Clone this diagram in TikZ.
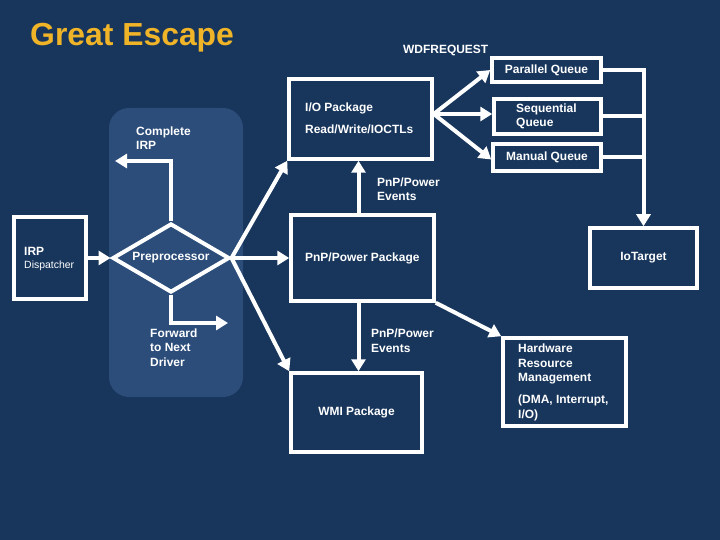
\documentclass[tikz,border=0pt]{standalone}
\usepackage{fontspec}
\setmainfont{Liberation Sans}
\usetikzlibrary{arrows.meta,shapes.geometric,calc}
\definecolor{bg}{RGB}{24,54,92}
\definecolor{panel}{RGB}{44,77,122}
\definecolor{titlec}{RGB}{240,180,40}
\begin{document}
\begin{tikzpicture}[x=1bp,y=-1bp,
  box/.style={draw=white,line width=3.5bp,inner sep=0pt},
  lbl/.style={text=white,font=\bfseries\fontsize{12}{14.5}\selectfont,inner sep=0pt,align=left},
  arr/.style={draw=white,line width=4bp,-{Triangle[length=12bp,width=14bp]}},
  ln/.style={draw=white,line width=4bp}]
\fill[bg] (0,0) rectangle (720,540);
\useasboundingbox (0,0) rectangle (720,540);
\fill[panel,rounded corners=20bp] (109,108) rectangle (243,397);
% title
\node[anchor=base west,inner sep=0pt,text=titlec,font=\bfseries\fontsize{32}{38}\selectfont] (title) at (30,46) {Great Escape};
\node[lbl,anchor=base west] (wdf) at (403,54) {WDFREQUEST};
% boxes
\node[box,minimum width=72bp,minimum height=82bp] (irp) at (50,258) {};
\node[box,diamond,aspect=1.7,minimum width=117bp,minimum height=69bp,lbl,line width=4bp] (pre) at (171,258) {Preprocessor};
\node[box,minimum width=143bp,minimum height=80bp] (io) at (360.5,119) {};
\node[box,minimum width=143bp,minimum height=86bp] (pnp) at (362.5,258) {};
\node[box,minimum width=131bp,minimum height=79bp] (wmi) at (356.5,412.5) {};
\node[box,minimum width=123bp,minimum height=88bp] (hw) at (564.5,382) {};
\node[box,minimum width=109bp,minimum height=24bp] (par) at (546.5,70) {};
\node[box,minimum width=107bp,minimum height=35bp] (seq) at (547.5,116.5) {};
\node[box,minimum width=108bp,minimum height=27bp] (man) at (547,157.5) {};
\node[box,minimum width=107bp,minimum height=60bp] (iot) at (643.5,258) {};
% free ends and helper points
\coordinate (cirp) at (115,161);
\coordinate (fwd) at (228,323);
\coordinate (ioout) at ([yshift=5bp]io.east);
% labels (multi-line: base = last line)
\node[lbl,anchor=base west] (irpt) at (24,256) {IRP};
\node[anchor=base west,inner sep=0pt,text=white,font=\fontsize{10.5}{12}\selectfont] (disp) at (24,269) {Dispatcher};
\node[lbl,anchor=base west] (cirpt) at (136,150) {Complete\\IRP};
\node[lbl,anchor=base west] (fwdt) at (150,366) {Forward\\to Next\\Driver};
\node[lbl,anchor=base west] (iot1) at (305,112) {I/O Package};
\node[lbl,anchor=base west] (iot2) at (305,134) {Read/Write/IOCTLs};
\node[lbl,anchor=base west] (ev1) at (377,201) {PnP/Power\\Events};
\node[lbl,anchor=base west] (pnpt) at (305,262) {PnP/Power Package};
\node[lbl,anchor=base west] (ev2) at (371,352) {PnP/Power\\Events};
\node[lbl] (wmit) at (wmi) {WMI Package};
\node[lbl,anchor=base west] (hwt) at (518,418) {Hardware\\Resource\\Management\\[7.5pt](DMA, Interrupt,\\I/O)};
\node[lbl] (part) at (par) {Parallel Queue};
\node[lbl,anchor=base west] (seqt) at (516,127) {Sequential\\Queue};
\node[lbl] (mant) at (man) {Manual Queue};
\node[lbl] (iott) at (iot) {IoTarget};
% connectors
\draw[arr] (irp.east) -- (pre.west);
\draw[arr] (pre.north) |- (cirp);
\draw[arr] (pre.south) |- (fwd);
\draw[arr] (pre.east) -- (io.south west);
\draw[arr] (pre.east) -- (pnp.west);
\draw[arr] (pre.east) -- (wmi.north west);
\draw[arr] ([xshift=-4bp]pnp.north) -- ([xshift=-4bp]pnp.north |- io.south);
\draw[arr] ([xshift=-4bp]pnp.south) -- ([xshift=-4bp]pnp.south |- wmi.north);
\draw[arr] (pnp.south east) -- (hw.north west);
\draw[arr] (ioout) -- (par.west);
\draw[arr] (ioout) -- (ioout -| seq.west);
\draw[arr] (ioout) -- ([yshift=-2bp]man.west);
\draw[arr] (par.east) -| (iot.north);
\draw[ln] (seq.east) -- (seq.east -| iot.north);
\draw[ln] (man.east) -- (man.east -| iot.north);
\end{tikzpicture}
\end{document}
